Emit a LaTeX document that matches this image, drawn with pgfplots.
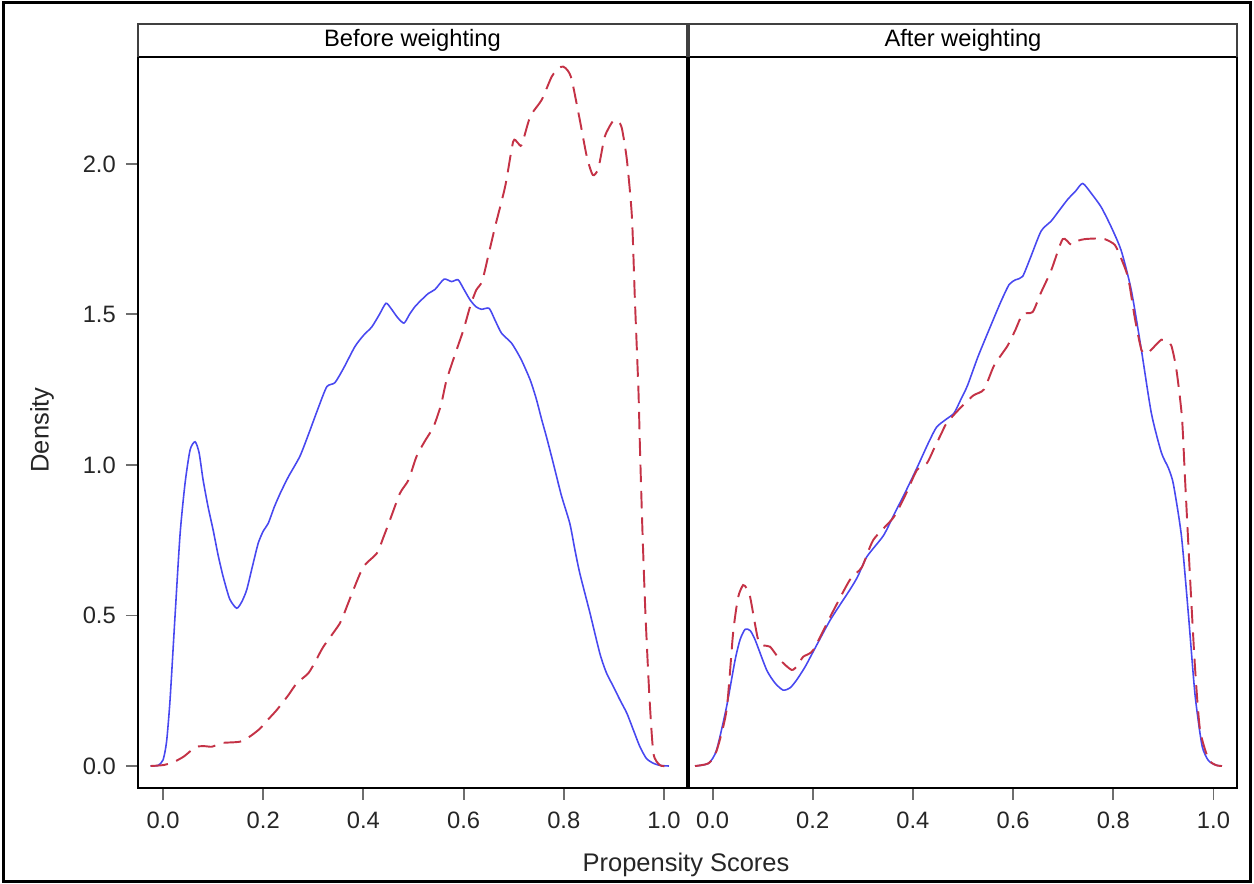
\documentclass[border=0pt]{standalone}
\usepackage{fontspec}
\setmainfont{Liberation Sans}
\usepackage{pgfplots}
\pgfplotsset{compat=1.18}

\definecolor{cblue}{RGB}{72,72,240}
\definecolor{cred}{RGB}{196,50,70}
\definecolor{tickgray}{RGB}{110,110,110}

\pgfplotsset{
  panel/.style={
    scale only axis, height=14.62cm,
    anchor=south west,
    ymin=-0.073, ymax=2.355,
    xtick={0,0.2,0.4,0.6,0.8,1},
    axis line style={black, line width=1.1pt},
    tick align=outside, major tick length=0.24cm,
    tick style={tickgray, line width=1.1pt},
    xtick pos=bottom, ytick pos=left,
    ticklabel style={font=\fontsize{13.5}{16}\selectfont, text=black!85},
    /pgf/number format/fixed,
    /pgf/number format/fixed zerofill,
    /pgf/number format/precision=1,
    /pgf/number format/assume math mode=true,
    xticklabel style={yshift=-0.12cm},
    yticklabel style={xshift=-0.08cm},
  },
  treated/.style={cblue, line width=0.9pt, smooth, tension=0.4},
  control/.style={cred, line width=1.1pt, smooth, tension=0.4, dash pattern=on 10pt off 5pt},
}

\begin{document}
\begin{tikzpicture}
\useasboundingbox (0,0) rectangle (25.08,17.68);

% Before weighting
\begin{axis}[panel, name=L, at={(2.76cm,1.92cm)}, width=10.98cm,
  xmin=-0.05, xmax=1.046, ytick={0,0.5,1,1.5,2}]
\addplot[treated] coordinates {
(-0.025,0) (-0.01,0.002) (0.0,0.02) (0.007,0.08) (0.014,0.22) (0.024,0.50)
(0.034,0.77) (0.044,0.94) (0.054,1.05) (0.064,1.077) (0.072,1.04) (0.080,0.95)
(0.090,0.86) (0.100,0.784) (0.110,0.70) (0.120,0.629) (0.133,0.555) (0.147,0.524)
(0.157,0.545) (0.167,0.585) (0.178,0.66) (0.190,0.740) (0.200,0.78) (0.210,0.806)
(0.222,0.86) (0.234,0.906) (0.250,0.96) (0.273,1.028) (0.290,1.10) (0.310,1.19)
(0.327,1.260) (0.343,1.273) (0.360,1.32) (0.383,1.393) (0.400,1.43) (0.417,1.459)
(0.432,1.50) (0.445,1.537) (0.455,1.52) (0.468,1.49) (0.481,1.471) (0.492,1.50)
(0.503,1.526) (0.517,1.55) (0.530,1.570) (0.543,1.583) (0.561,1.617) (0.576,1.609)
(0.589,1.615) (0.600,1.585) (0.613,1.548) (0.625,1.525) (0.636,1.517) (0.651,1.520)
(0.663,1.48) (0.676,1.437) (0.696,1.404) (0.715,1.35) (0.733,1.282) (0.745,1.22)
(0.756,1.150) (0.766,1.09) (0.779,1.006) (0.795,0.90) (0.812,0.806) (0.822,0.72)
(0.832,0.640) (0.852,0.51) (0.872,0.374) (0.885,0.31) (0.899,0.264) (0.912,0.22)
(0.926,0.175) (0.940,0.115) (0.952,0.064) (0.965,0.025) (0.979,0.009) (0.992,0.002)
(1.01,0)
};
\addplot[control] coordinates {
(-0.025,0) (0.0,0.003) (0.02,0.012) (0.041,0.031) (0.055,0.05) (0.067,0.064)
(0.082,0.066) (0.097,0.064) (0.110,0.072) (0.120,0.077) (0.154,0.081) (0.175,0.10)
(0.194,0.125) (0.210,0.155) (0.227,0.186) (0.250,0.235) (0.267,0.275) (0.290,0.308)
(0.305,0.35) (0.320,0.396) (0.353,0.474) (0.367,0.53) (0.380,0.585) (0.400,0.662)
(0.427,0.707) (0.440,0.76) (0.453,0.817) (0.473,0.906) (0.490,0.95) (0.506,1.028)
(0.523,1.08) (0.540,1.127) (0.555,1.20) (0.566,1.282) (0.586,1.382) (0.600,1.45)
(0.613,1.526) (0.625,1.58) (0.637,1.61) (0.650,1.70) (0.663,1.792) (0.683,1.925)
(0.699,2.074) (0.708,2.07) (0.716,2.063) (0.733,2.157) (0.756,2.213) (0.776,2.290)
(0.790,2.318) (0.799,2.323) (0.808,2.31) (0.816,2.279) (0.832,2.146) (0.846,2.024)
(0.858,1.963) (0.869,1.985) (0.882,2.091) (0.899,2.144) (0.909,2.14) (0.916,2.118)
(0.926,2.013) (0.936,1.825) (0.942,1.548) (0.949,1.25) (0.952,1.061) (0.957,0.784)
(0.963,0.507) (0.971,0.230) (0.979,0.042) (0.992,0.003) (1.005,0)
};
\end{axis}

% After weighting
\begin{axis}[panel, name=R, at={(13.78cm,1.92cm)}, width=10.96cm,
  xmin=-0.047, xmax=1.047, ytick=\empty]
\addplot[treated] coordinates {
(-0.035,0) (-0.008,0.009) (0.008,0.053) (0.028,0.197) (0.045,0.352) (0.055,0.42)
(0.065,0.454) (0.075,0.45) (0.085,0.419) (0.108,0.319) (0.125,0.275) (0.141,0.252)
(0.155,0.26) (0.168,0.286) (0.185,0.33) (0.201,0.38) (0.235,0.485) (0.274,0.585)
(0.290,0.63) (0.308,0.695) (0.341,0.765) (0.361,0.831) (0.385,0.91) (0.408,0.99)
(0.430,1.07) (0.447,1.125) (0.465,1.15) (0.482,1.172) (0.495,1.215) (0.509,1.264)
(0.530,1.36) (0.555,1.461) (0.575,1.54) (0.592,1.599) (0.605,1.615) (0.619,1.626)
(0.635,1.69) (0.656,1.777) (0.676,1.810) (0.692,1.845) (0.709,1.882) (0.725,1.91)
(0.739,1.935) (0.757,1.90) (0.776,1.856) (0.796,1.79) (0.816,1.711) (0.836,1.580)
(0.856,1.383) (0.876,1.172) (0.896,1.041) (0.910,0.99) (0.920,0.936) (0.936,0.765)
(0.950,0.503) (0.963,0.240) (0.977,0.069) (0.990,0.018) (1.005,0.003) (1.017,0)
};
\addplot[control] coordinates {
(-0.035,0) (-0.008,0.009) (0.008,0.05) (0.028,0.186) (0.041,0.441) (0.051,0.56)
(0.061,0.601) (0.068,0.59) (0.075,0.562) (0.091,0.419) (0.103,0.40) (0.115,0.396)
(0.135,0.352) (0.158,0.319) (0.170,0.335) (0.181,0.363) (0.201,0.385) (0.235,0.496)
(0.274,0.618) (0.298,0.66) (0.321,0.751) (0.361,0.825) (0.385,0.90) (0.408,0.983)
(0.428,1.006) (0.441,1.050) (0.457,1.105) (0.467,1.138) (0.491,1.183) (0.520,1.23)
(0.542,1.251) (0.562,1.330) (0.589,1.396) (0.605,1.45) (0.619,1.501) (0.639,1.508)
(0.655,1.57) (0.676,1.646) (0.699,1.750) (0.716,1.731) (0.730,1.745) (0.743,1.750)
(0.763,1.752) (0.783,1.750) (0.803,1.731) (0.816,1.685) (0.830,1.619) (0.843,1.488)
(0.856,1.383) (0.866,1.37) (0.876,1.383) (0.896,1.416) (0.908,1.41) (0.916,1.396)
(0.926,1.317) (0.937,1.160) (0.943,0.962) (0.953,0.634) (0.963,0.332) (0.973,0.122)
(0.990,0.023) (1.005,0.003) (1.017,0)
};
\end{axis}

% panel headers
\draw[black!75, line width=0.9pt] (L.north west) -- ++(0,0.66) -| (L.north east);
\draw[black!75, line width=0.9pt] (R.north west) -- ++(0,0.66) -| (R.north east);
\node[font=\fontsize{13.5}{16}\selectfont] at ([yshift=0.33cm]L.north) {Before weighting};
\node[font=\fontsize{13.5}{16}\selectfont] at ([yshift=0.33cm]R.north) {After weighting};

% axis labels
\node[rotate=90, font=\fontsize{14.5}{17}\selectfont, text=black!85] at (0.84,9.08) {Density};
\node[font=\fontsize{14.5}{17}\selectfont, text=black!85] at (13.72,0.38) {Propensity Scores};

% outer frame
\draw[black, line width=2pt] (0.07,0.05) rectangle (25.01,17.63);
\end{tikzpicture}
\end{document}
